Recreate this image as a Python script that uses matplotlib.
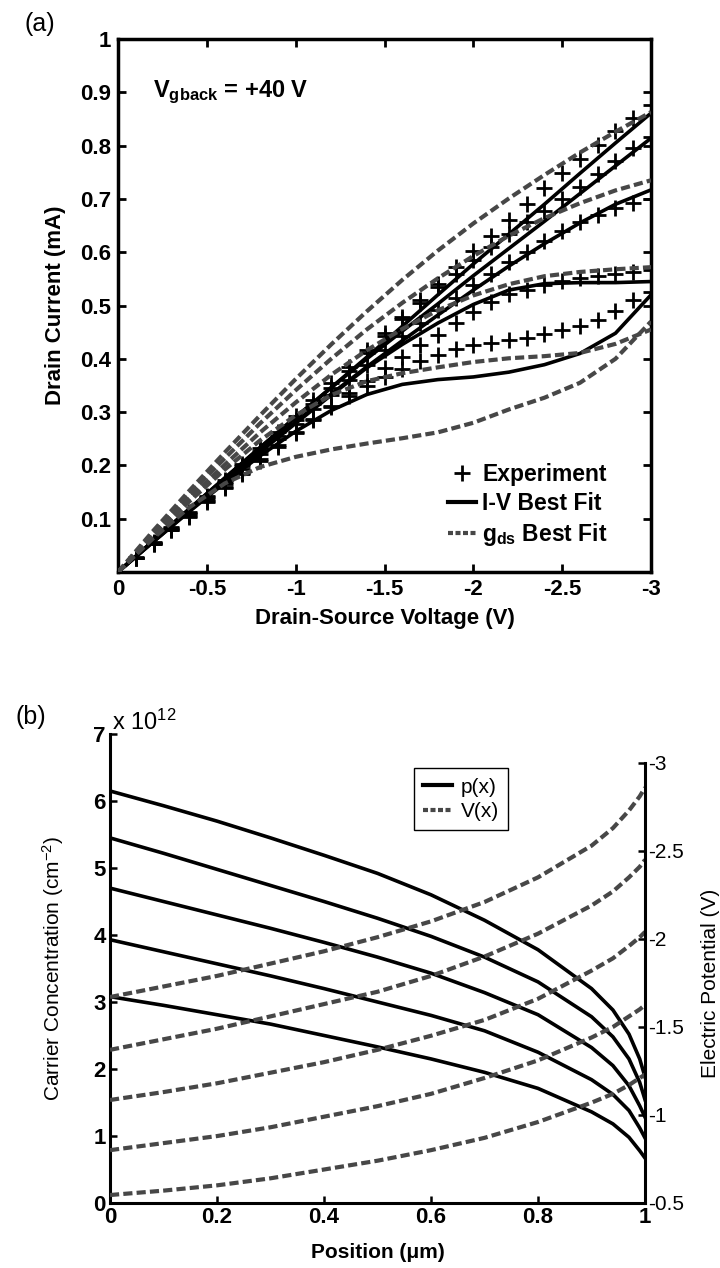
import numpy as np
import matplotlib
matplotlib.use('Agg')
import matplotlib.pyplot as plt
from matplotlib.lines import Line2D

plt.rcParams['font.family'] = ['Liberation Sans', 'DejaVu Sans']
plt.rcParams['mathtext.fontset'] = 'custom'
plt.rcParams['mathtext.rm'] = 'Liberation Sans'
plt.rcParams['mathtext.bf'] = 'Liberation Sans:bold'
plt.rcParams['mathtext.it'] = 'Liberation Sans:italic'
plt.rcParams['axes.unicode_minus'] = False

# ---------------- Panel (a) data ----------------
vds_exp = [0.0, -0.1, -0.2, -0.3, -0.4, -0.5, -0.6, -0.7, -0.8, -0.9, -1.0,
           -1.1, -1.2, -1.3, -1.4, -1.5, -1.6, -1.7, -1.8, -1.9, -2.0,
           -2.1, -2.2, -2.3, -2.4, -2.5, -2.6, -2.7, -2.8, -2.9, -3.0]
exp1 = [0, 0.028, 0.056, 0.084, 0.113, 0.142, 0.172, 0.202, 0.232, 0.262, 0.292,
        0.323, 0.354, 0.385, 0.416, 0.448, 0.479, 0.510, 0.541, 0.572, 0.603,
        0.631, 0.660, 0.690, 0.720, 0.748, 0.775, 0.801, 0.828, 0.852, 0.876]
exp2 = [0, 0.027, 0.054, 0.082, 0.111, 0.140, 0.169, 0.198, 0.227, 0.256, 0.285,
        0.315, 0.346, 0.377, 0.410, 0.443, 0.474, 0.505, 0.535, 0.560, 0.585,
        0.610, 0.634, 0.656, 0.678, 0.700, 0.723, 0.747, 0.771, 0.795, 0.816]
exp3 = [0, 0.027, 0.054, 0.081, 0.109, 0.137, 0.165, 0.193, 0.221, 0.249, 0.277,
        0.305, 0.333, 0.361, 0.389, 0.416, 0.443, 0.468, 0.492, 0.515, 0.538,
        0.560, 0.581, 0.600, 0.621, 0.640, 0.656, 0.670, 0.683, 0.692, 0.700]
exp4 = [0, 0.026, 0.052, 0.079, 0.106, 0.133, 0.160, 0.186, 0.212, 0.238, 0.263,
        0.288, 0.312, 0.336, 0.359, 0.382, 0.404, 0.425, 0.445, 0.468, 0.488,
        0.507, 0.521, 0.530, 0.538, 0.546, 0.551, 0.556, 0.560, 0.563, 0.567]
exp5 = [0, 0.026, 0.052, 0.078, 0.104, 0.131, 0.157, 0.183, 0.209, 0.235, 0.260,
        0.285, 0.309, 0.331, 0.349, 0.365, 0.380, 0.395, 0.408, 0.418, 0.425,
        0.430, 0.435, 0.440, 0.447, 0.455, 0.462, 0.473, 0.490, 0.510, 0.525]

vds_fit = [0.0, -0.2, -0.4, -0.6, -0.8, -1.0, -1.2, -1.4, -1.6, -1.8, -2.0,
           -2.2, -2.4, -2.6, -2.8, -3.0]
iv_fit1 = [0, 0.059, 0.118, 0.176, 0.233, 0.290, 0.346, 0.403, 0.461, 0.520, 0.578,
           0.634, 0.690, 0.748, 0.805, 0.861]
iv_fit2 = [0, 0.059, 0.118, 0.176, 0.234, 0.291, 0.346, 0.400, 0.452, 0.503, 0.556,
           0.607, 0.658, 0.710, 0.762, 0.814]
iv_fit3 = [0, 0.058, 0.116, 0.173, 0.228, 0.282, 0.334, 0.385, 0.434, 0.482, 0.529,
           0.574, 0.616, 0.655, 0.690, 0.717]
iv_fit4 = [0, 0.057, 0.114, 0.170, 0.225, 0.279, 0.332, 0.383, 0.427, 0.467, 0.502,
           0.529, 0.541, 0.543, 0.543, 0.545]
iv_fit5 = [0, 0.057, 0.113, 0.167, 0.218, 0.264, 0.303, 0.333, 0.352, 0.361, 0.366,
           0.375, 0.389, 0.410, 0.448, 0.520]
gds_fit1 = [0, 0.078, 0.152, 0.224, 0.294, 0.362, 0.427, 0.489, 0.548, 0.603, 0.654,
            0.701, 0.745, 0.787, 0.826, 0.863]
gds_fit2 = [0, 0.074, 0.145, 0.213, 0.279, 0.341, 0.400, 0.455, 0.505, 0.551, 0.593,
            0.631, 0.664, 0.692, 0.716, 0.735]
gds_fit3 = [0, 0.070, 0.137, 0.201, 0.262, 0.318, 0.370, 0.416, 0.456, 0.491, 0.519,
            0.540, 0.555, 0.563, 0.568, 0.572]
gds_fit4 = [0, 0.068, 0.132, 0.192, 0.247, 0.294, 0.332, 0.358, 0.373, 0.384, 0.394,
            0.401, 0.405, 0.411, 0.428, 0.455]
gds_fit5 = [0, 0.064, 0.121, 0.166, 0.197, 0.216, 0.230, 0.241, 0.251, 0.262, 0.280,
            0.305, 0.327, 0.355, 0.400, 0.470]

vds_ticks = [0, -0.5, -1, -1.5, -2, -2.5, -3]
vds_ticklabels = ['0', '-0.5', '-1', '-1.5', '-2', '-2.5', '-3']
id_ticks = [0.1, 0.2, 0.3, 0.4, 0.5, 0.6, 0.7, 0.8, 0.9, 1.0]
id_ticklabels = ['0.1', '0.2', '0.3', '0.4', '0.5', '0.6', '0.7', '0.8', '0.9', '1']

# ---------------- Panel (b) data ----------------
position = [0.0, 0.1, 0.2, 0.3, 0.4, 0.5, 0.6, 0.7, 0.8, 0.9, 0.94, 0.97, 0.99, 1.0]
p1 = [6.15, 5.93, 5.70, 5.45, 5.19, 4.92, 4.60, 4.22, 3.78, 3.20, 2.88, 2.52, 2.15, 1.88]
p2 = [5.45, 5.22, 4.98, 4.74, 4.50, 4.25, 3.98, 3.67, 3.30, 2.78, 2.48, 2.15, 1.80, 1.54]
p3 = [4.70, 4.50, 4.30, 4.10, 3.89, 3.67, 3.43, 3.14, 2.81, 2.32, 2.05, 1.75, 1.45, 1.28]
p4 = [3.93, 3.75, 3.57, 3.39, 3.20, 3.00, 2.80, 2.57, 2.25, 1.84, 1.62, 1.38, 1.12, 0.97]
p5 = [3.08, 2.95, 2.81, 2.67, 2.50, 2.33, 2.15, 1.95, 1.71, 1.36, 1.18, 0.98, 0.78, 0.67]
v1 = [-1.67, -1.73, -1.79, -1.86, -1.93, -2.01, -2.10, -2.21, -2.35, -2.53, -2.63, -2.73, -2.81, -2.86]
v2 = [-1.37, -1.43, -1.49, -1.56, -1.63, -1.70, -1.79, -1.90, -2.03, -2.19, -2.27, -2.35, -2.41, -2.45]
v3 = [-1.085, -1.13, -1.18, -1.24, -1.30, -1.37, -1.45, -1.54, -1.66, -1.82, -1.89, -1.96, -2.01, -2.04]
v4 = [-0.80, -0.84, -0.88, -0.93, -0.99, -1.05, -1.12, -1.21, -1.31, -1.44, -1.50, -1.56, -1.60, -1.625]
v5 = [-0.545, -0.57, -0.60, -0.64, -0.69, -0.74, -0.80, -0.87, -0.96, -1.07, -1.12, -1.17, -1.21, -1.23]

pos_ticks = [0, 0.2, 0.4, 0.6, 0.8, 1.0]
pos_ticklabels = ['0', '0.2', '0.4', '0.6', '0.8', '1']
conc_ticks = [0, 1, 2, 3, 4, 5, 6, 7]
pot_ticks = [-3, -2.5, -2, -1.5, -1, -0.5]
pot_ticklabels = ['-3', '-2.5', '-2', '-1.5', '-1', '-0.5']

# ---------------- Figure ----------------
fig = plt.figure(figsize=(7.2, 12.68), dpi=100)
DASH_COLOR = '#474747'
DASH = (0, (2.2, 1.0))

ax = fig.add_axes([0.1639, 0.5489, 0.7403, 0.4203])
for e in [exp1, exp2, exp3, exp4, exp5]:
    ax.plot(vds_exp, e, linestyle='none', marker='+', color='black',
            markersize=11, markeredgewidth=2.0, zorder=3)
for s in [iv_fit1, iv_fit2, iv_fit3, iv_fit4, iv_fit5]:
    ax.plot(vds_fit, s, color='black', linewidth=2.6, zorder=4)
for d in [gds_fit1, gds_fit2, gds_fit3, gds_fit4, gds_fit5]:
    ax.plot(vds_fit, d, color=DASH_COLOR, linewidth=3.0, linestyle=DASH, zorder=5)

ax.set_xlim(0, -3)
ax.set_ylim(0, 1)
ax.set_xticks(vds_ticks)
ax.set_xticklabels(vds_ticklabels)
ax.set_yticks(id_ticks)
ax.set_yticklabels(id_ticklabels)
ax.tick_params(direction='in', top=True, right=True, length=6, width=2,
               labelsize=16, pad=5)
for lab in ax.get_xticklabels() + ax.get_yticklabels():
    lab.set_fontweight('bold')
for sp in ax.spines.values():
    sp.set_linewidth(2.5)
ax.set_xlabel('Drain-Source Voltage (V)', fontsize=16, fontweight='bold', labelpad=6)
ax.set_ylabel('Drain Current (mA)', fontsize=16, fontweight='bold')
ax.yaxis.set_label_coords(-0.098, 0.5)

ax.text(0.066, 0.891, r'$\mathbf{V_{gback}}$ = +40 V', transform=ax.transAxes,
        fontsize=17, fontweight='bold', va='baseline', ha='left')

handles = [Line2D([], [], linestyle='none', marker='+', color='black',
                  markersize=11, markeredgewidth=2.0),
           Line2D([], [], color='black', linewidth=3.0),
           Line2D([], [], color=DASH_COLOR, linewidth=3.0, linestyle=(0, (1.2, 0.6)))]
leg = ax.legend(handles, ['Experiment', 'I-V Best Fit', r'$\mathbf{g_{ds}}$ Best Fit'],
                loc='lower right', bbox_to_anchor=(0.945, 0.02), frameon=False,
                prop={'weight': 'bold', 'size': 16.5}, handlelength=1.2,
                handletextpad=0.3, labelspacing=0.25, borderaxespad=0.2)

fig.text(0.055, 0.981, '(a)', fontsize=18, ha='center', va='center')

# ---------------- Panel (b) ----------------
ax1 = fig.add_axes([0.1528, 0.0513, 0.7431, 0.3698])
ax2 = fig.add_axes([0.1528, 0.0513, 0.7431, 0.3470])
ax2.set_facecolor('none')

for p in [p1, p2, p3, p4, p5]:
    ax1.plot(position, p, color='black', linewidth=2.6)
for v in [v1, v2, v3, v4, v5]:
    ax2.plot(position, v, color=DASH_COLOR, linewidth=3.0, linestyle=DASH)

ax1.set_xlim(0, 1)
ax1.set_ylim(0, 7)
ax1.set_xticks(pos_ticks)
ax1.set_xticklabels(pos_ticklabels)
ax1.set_yticks(conc_ticks)
ax1.spines['top'].set_visible(False)
ax1.spines['right'].set_visible(False)
for sp in ['left', 'bottom']:
    ax1.spines[sp].set_linewidth(2.2)
ax1.tick_params(direction='in', length=5, width=1.8, labelsize=16, pad=3)
for lab in ax1.get_xticklabels() + ax1.get_yticklabels():
    lab.set_fontweight('bold')
ax1.set_xlabel('Position (μm)', fontsize=15, fontweight='bold')
ax1.xaxis.set_label_coords(0.5, -0.085)
ax1.set_ylabel(r'Carrier Concentration (cm$^{-2}$)', fontsize=15)
ax1.yaxis.set_label_coords(-0.082, 0.5)

ax2.set_xlim(0, 1)
ax2.set_ylim(-0.5, -3)
for sp in ['top', 'left', 'bottom']:
    ax2.spines[sp].set_visible(False)
ax2.spines['right'].set_linewidth(2.2)
ax2.xaxis.set_visible(False)
ax2.yaxis.tick_right()
ax2.yaxis.set_label_position('right')
ax2.set_yticks(pot_ticks)
ax2.set_yticklabels(pot_ticklabels)
ax2.tick_params(direction='in', length=5, width=1.8, labelsize=15, pad=2)
ax2.set_ylabel('Electric Potential (V)', fontsize=15)
ax2.yaxis.set_label_coords(1.105, 0.5)

h2 = [Line2D([], [], color='black', linewidth=3.0),
      Line2D([], [], color=DASH_COLOR, linewidth=3.0, linestyle=(0, (1.2, 0.6)))]
ax2.legend(h2, ['p(x)', 'V(x)'], loc='upper left', bbox_to_anchor=(0.548, 0.949),
           bbox_transform=ax1.transAxes, fancybox=False, edgecolor='black',
           framealpha=1, fontsize=15, handlelength=1.4, handletextpad=0.4,
           borderpad=0.45, labelspacing=0.25)
ax2.get_legend().get_frame().set_linewidth(1.0)

fig.text(0.043, 0.4345, '(b)', fontsize=18, ha='center', va='center')
fig.text(0.156, 0.4245, r'x 10$^{12}$', fontsize=17, ha='left', va='baseline')

fig.savefig('out.png', dpi=100)
